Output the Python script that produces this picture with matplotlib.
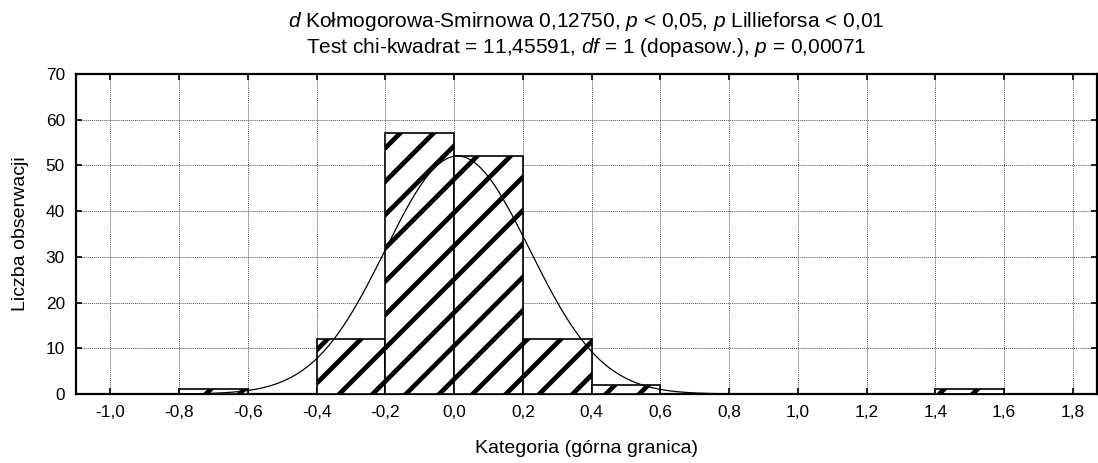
import numpy as np
import matplotlib
matplotlib.use("Agg")
from matplotlib import pyplot as plt
from matplotlib.ticker import FuncFormatter, MultipleLocator

# histogram: lower bin edges and counts
bin_left = [-0.8, -0.4, -0.2, 0.0, 0.2, 0.4, 1.4]
counts = [1, 12, 57, 52, 12, 2, 1]
bin_width = 0.2

# fitted normal
n_obs = sum(counts)
mean = 0.01
sd = 0.21

title1 = "$d$ Kołmogorowa-Smirnowa 0,12750, $p$ < 0,05, $p$ Lillieforsa < 0,01"
title2 = "Test chi-kwadrat = 11,45591, $df$ = 1 (dopasow.), $p$ = 0,00071"

plt.rcParams['font.family'] = ['Liberation Sans', 'DejaVu Sans']
plt.rcParams['mathtext.fontset'] = 'custom'
plt.rcParams['mathtext.it'] = 'Liberation Sans:italic'
plt.rcParams['mathtext.rm'] = 'Liberation Sans'
plt.rcParams['hatch.linewidth'] = 1.7

fig = plt.figure(figsize=(5.49, 2.315), dpi=200)
ax = fig.add_axes([76/1098, 1-394/463, 1021/1098, 320/463])

ax.bar(bin_left, counts, width=bin_width, align='edge', color='white',
       edgecolor='black', hatch='//', linewidth=0.6, zorder=3)

xs = np.linspace(-1.1, 1.9, 600)
ys = n_obs * bin_width * np.exp(-0.5*((xs-mean)/sd)**2) / (sd*np.sqrt(2*np.pi))
ax.plot(xs, ys, color='black', linewidth=0.45, zorder=4)

ax.set_xlim(-1.1, 1.87)
ax.set_ylim(0, 70)
ax.xaxis.set_major_locator(MultipleLocator(0.2))
ax.yaxis.set_major_locator(MultipleLocator(10))
ax.xaxis.set_major_formatter(FuncFormatter(lambda v, p: ("%.1f" % v).replace('.', ',').replace('-0,0', '0,0')))
ax.grid(True, linestyle=(0, (1, 1)), color='#555555', linewidth=0.35, zorder=0)
ax.tick_params(direction='in', length=2, width=0.6, labelsize=6.2, pad=4, top=True, right=True)
for s in ax.spines.values():
    s.set_linewidth(0.8)

ax.set_xlabel("Kategoria (górna granica)", fontsize=7, labelpad=7)
ax.set_ylabel("Liczba obserwacji", fontsize=7, labelpad=6)

cx = (76 + 1097) / 2 / 1098
fig.text(cx, 1-27/463, title1, ha='center', va='baseline', fontsize=7.5)
fig.text(cx, 1-53/463, title2, ha='center', va='baseline', fontsize=7.5)

fig.savefig("out.png", dpi=200)
